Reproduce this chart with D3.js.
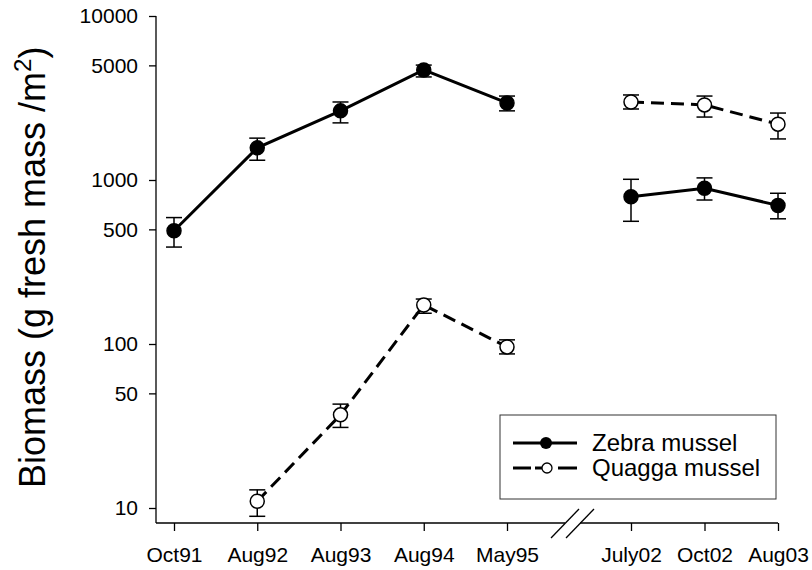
<!DOCTYPE html>
<html>
<head>
<meta charset="utf-8">
<script src="https://cdn.jsdelivr.net/npm/d3@7"></script>
<style>
  html, body { margin: 0; padding: 0; background: #fff; }
  svg { display: block; font-family: "Liberation Sans", Arial, Helvetica, sans-serif; }
</style>
</head>
<body>
<svg id="chart" width="812" height="570"></svg>
<script>
// ---- data ----
const categories = ["Oct91", "Aug92", "Aug93", "Aug94", "May95", "July02", "Oct02", "Aug03"];
const period     = [1, 1, 1, 1, 1, 2, 2, 2];
const zebra      = [490, 1570, 2640, 4690, 2950, 790, 890, 700];
const zebraHi    = [590, 1800, 2990, 5020, 3250, 1010, 1030, 830];
const zebraLo    = [390, 1320, 2230, 4250, 2640, 560, 755, 580];
const quagga     = [null, 11, 37, 173, 96, 2990, 2870, 2190];
const quaggaHi   = [null, 12.9, 43, 188, 106, 3300, 3250, 2560];
const quaggaLo   = [null, 8.9, 31, 154, 87, 2710, 2420, 1780];
const yTicks     = [10, 50, 100, 500, 1000, 5000, 10000];
const seriesNames = ["Zebra mussel", "Quagga mussel"];

// ---- layout ----
const svg = d3.select("#chart");
const axisX = 156, axisY = 523;
const x = d3.scaleLinear().domain([0, 4, 5, 7]).range([174, 507, 631, 778]);
const y = d3.scaleLog().domain([10, 10000]).range([508, 16]);
const tickFont = 21;

// y axis
const yAxis = d3.axisLeft(y).tickValues(yTicks).tickFormat(d3.format("d"))
  .tickSize(7).tickSizeOuter(0).tickPadding(11);
const gy = svg.append("g").attr("transform", `translate(${axisX},0)`).call(yAxis);
gy.select(".domain").remove();
gy.selectAll("line").attr("stroke", "#000").attr("stroke-width", 1.3);
gy.selectAll("text").attr("font-size", tickFont).attr("fill", "#000").attr("font-family", "Liberation Sans, Arial, sans-serif");
svg.append("line").attr("x1", axisX).attr("x2", axisX).attr("y1", y(10000)).attr("y2", axisY)
  .attr("stroke", "#000").attr("stroke-width", 1.3);

// x axis
const xAxis = d3.axisBottom(x).tickValues(d3.range(categories.length))
  .tickFormat(i => categories[i]).tickSize(8).tickSizeOuter(0).tickPadding(16);
const gx = svg.append("g").attr("transform", `translate(0,${axisY})`).call(xAxis);
gx.select(".domain").remove();
gx.selectAll("line").attr("stroke", "#000").attr("stroke-width", 1.3);
gx.selectAll("text").attr("font-size", tickFont).attr("fill", "#000").attr("font-family", "Liberation Sans, Arial, sans-serif");
// axis line with break
const brk1 = 565, brk2 = 580;
svg.append("line").attr("x1", axisX).attr("x2", brk1).attr("y1", axisY).attr("y2", axisY)
  .attr("stroke", "#000").attr("stroke-width", 1.3);
svg.append("line").attr("x1", brk2).attr("x2", x(7)).attr("y1", axisY).attr("y2", axisY)
  .attr("stroke", "#000").attr("stroke-width", 1.3);
svg.append("line").attr("x1", 551).attr("y1", 538).attr("x2", 579).attr("y2", 509)
  .attr("stroke", "#000").attr("stroke-width", 1.3);
svg.append("line").attr("x1", 566).attr("y1", 538).attr("x2", 594).attr("y2", 509)
  .attr("stroke", "#000").attr("stroke-width", 1.3);

// y title
const title = svg.append("text")
  .attr("transform", "translate(45,488) rotate(-90)")
  .attr("font-size", 36).attr("fill", "#000");
title.append("tspan").text("Biomass (g fresh mass /m");
title.append("tspan").attr("font-size", 24).attr("dy", -14).text("2");
title.append("tspan").attr("dy", 14).text(")");

// series drawing
function drawSeries(vals, hi, lo, filled, dashed) {
  const idx = d3.range(vals.length).filter(i => vals[i] != null);
  const g = svg.append("g");
  // error bars
  idx.forEach(i => {
    const cx = x(i);
    g.append("line").attr("x1", cx).attr("x2", cx).attr("y1", y(hi[i])).attr("y2", y(lo[i]))
      .attr("stroke", "#000").attr("stroke-width", 1.5);
    [hi[i], lo[i]].forEach(v => {
      g.append("line").attr("x1", cx - 8).attr("x2", cx + 8).attr("y1", y(v)).attr("y2", y(v))
        .attr("stroke", "#000").attr("stroke-width", 1.5);
    });
  });
  // lines per period
  const line = d3.line().x(i => x(i)).y(i => y(vals[i]));
  [1, 2].forEach(p => {
    const pts = idx.filter(i => period[i] === p);
    g.append("path").attr("d", line(pts)).attr("fill", "none")
      .attr("stroke", "#000").attr("stroke-width", 3)
      .attr("stroke-dasharray", dashed ? "13,7" : null);
  });
  // markers
  idx.forEach(i => {
    g.append("circle").attr("cx", x(i)).attr("cy", y(vals[i])).attr("r", 7)
      .attr("fill", filled ? "#000" : "#fff").attr("stroke", "#000").attr("stroke-width", 1.5);
  });
}
drawSeries(zebra, zebraHi, zebraLo, true, false);
drawSeries(quagga, quaggaHi, quaggaLo, false, true);

// legend
const lg = svg.append("g");
lg.append("rect").attr("x", 500).attr("y", 415).attr("width", 276).attr("height", 84)
  .attr("fill", "#fff").attr("stroke", "#333").attr("stroke-width", 1);
lg.append("line").attr("x1", 513).attr("x2", 577).attr("y1", 443).attr("y2", 443)
  .attr("stroke", "#000").attr("stroke-width", 3);
lg.append("circle").attr("cx", 546).attr("cy", 443).attr("r", 6).attr("fill", "#000");
lg.append("line").attr("x1", 513).attr("x2", 531).attr("y1", 468).attr("y2", 468)
  .attr("stroke", "#000").attr("stroke-width", 3);
lg.append("line").attr("x1", 535).attr("x2", 542).attr("y1", 468).attr("y2", 468)
  .attr("stroke", "#000").attr("stroke-width", 3);
lg.append("line").attr("x1", 558).attr("x2", 577).attr("y1", 468).attr("y2", 468)
  .attr("stroke", "#000").attr("stroke-width", 3);
lg.append("circle").attr("cx", 547).attr("cy", 468).attr("r", 5).attr("fill", "#fff")
  .attr("stroke", "#000").attr("stroke-width", 1.3);
lg.append("text").attr("x", 592).attr("y", 451).attr("font-size", 24).attr("fill", "#000").text(seriesNames[0]);
lg.append("text").attr("x", 592).attr("y", 476).attr("font-size", 24).attr("fill", "#000").text(seriesNames[1]);
</script>
</body>
</html>
